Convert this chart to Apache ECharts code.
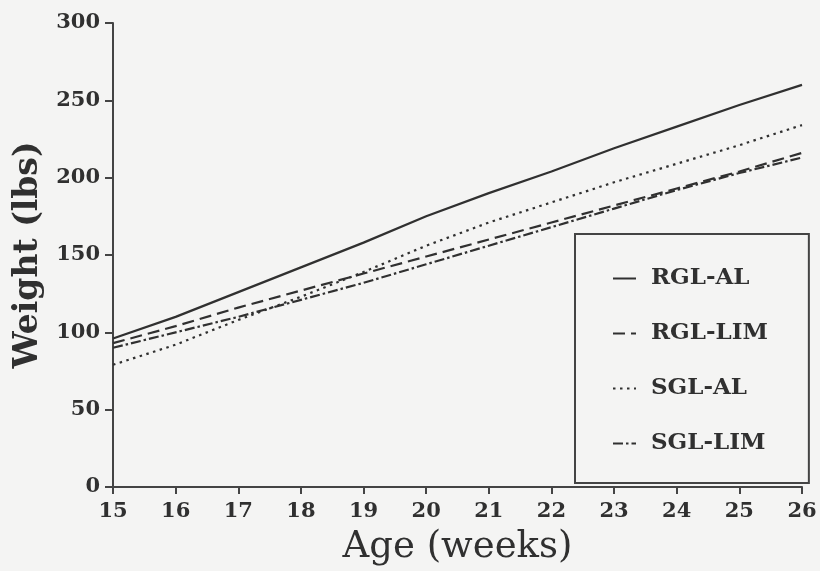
<!DOCTYPE html>
<html>
<head>
<meta charset="utf-8">
<script src="https://cdn.jsdelivr.net/npm/echarts@6/dist/echarts.min.js"></script>
<style>
html,body{margin:0;padding:0;background:#f4f4f3;}
#c{width:820px;height:571px;}
</style>
</head>
<body>
<div id="c"></div>
<script>
const ages = [15,16,17,18,19,20,21,22,23,24,25,26];
const rglAl  = [96,110,126,142,158,175,190,204,219,233,247,260];
const rglLim = [93,104,116,127,138,149,160,171,182,193,204,216];
const sglAl  = [79,92,108,123,139,156,171,184,197,209,221,234];
const sglLim = [90,100,110,121,132,144,156,168,180,192,203,213];
const seriesNames = ['RGL-AL','RGL-LIM','SGL-AL','SGL-LIM'];
const yTicks = [0,50,100,150,200,250,300];

const ink = '#303030';
const font = 'DejaVu Serif';
function pairs(vals){ return ages.map((a,i)=>[a, vals[i]]); }
const dashes = ['solid', [12,6], [2.5,4.5], [10,3,2.5,3]];
const allVals = [rglAl, rglLim, sglAl, sglLim];

const chart = echarts.init(document.getElementById('c'), null, {renderer:'canvas'});
chart.setOption({
  backgroundColor: '#f4f4f3',
  animation: false,
  grid: {left:113, right:18, top:23, bottom:82},
  xAxis: {
    type:'value', min:15, max:26, interval:1,
    name:'Age (weeks)', nameLocation:'middle', nameGap:42,
    nameTextStyle:{fontFamily:font, fontSize:37, color:ink},
    axisLine:{lineStyle:{color:'#444', width:2}},
    axisTick:{length:7, lineStyle:{color:'#444', width:2}},
    axisLabel:{fontFamily:font, fontWeight:'bold', fontSize:21, color:ink, margin:14},
    splitLine:{show:false}
  },
  yAxis: {
    type:'value', min:yTicks[0], max:yTicks[yTicks.length-1], interval:50,
    name:'Weight (lbs)', nameLocation:'middle', nameGap:67, nameRotate:90,
    nameTextStyle:{fontFamily:font, fontWeight:'bold', fontSize:33, color:ink},
    axisLine:{show:true, lineStyle:{color:'#444', width:2}},
    axisTick:{show:true, length:8, lineStyle:{color:'#444', width:2}},
    axisLabel:{fontFamily:font, fontWeight:'bold', fontSize:21, color:ink, margin:13},
    splitLine:{show:false}
  },
  legend: {
    orient:'vertical', left:575, top:234,
    data: seriesNames,
    itemWidth:23, itemHeight:14, itemGap:32,
    padding:[33,41,28,37],
    borderColor:'#444', borderWidth:2,
    itemStyle:{color:'transparent', borderWidth:0, opacity:0},
    textStyle:{fontFamily:font, fontWeight:'bold', fontSize:23, color:ink, lineHeight:22, padding:[0,0,0,10]}
  },
  series: seriesNames.map((n,i)=>({
    name:n, type:'line', symbol:'none', data:pairs(allVals[i]),
    lineStyle:{color:ink, width:2.2, type:dashes[i]},
    itemStyle:{color:ink}
  }))
});
</script>
</body>
</html>
